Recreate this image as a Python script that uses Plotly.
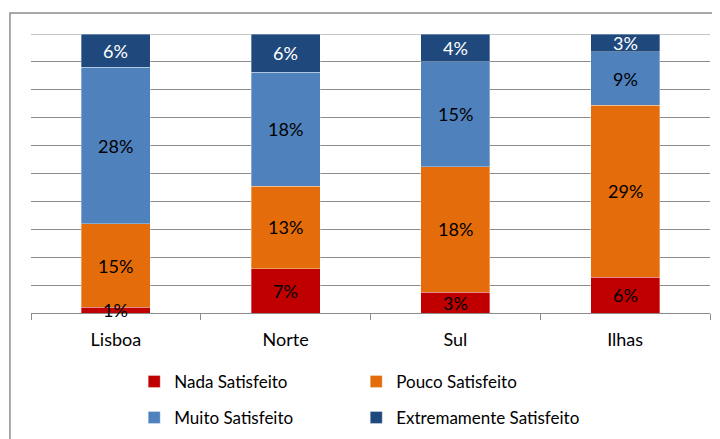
import plotly.graph_objects as go

# data
regioes = ["Lisboa", "Norte", "Sul", "Ilhas"]
series = ["Nada Satisfeito", "Pouco Satisfeito", "Muito Satisfeito", "Extremamente Satisfeito"]
nada = [1, 7, 3, 6]
pouco = [15, 13, 18, 29]
muito = [28, 18, 15, 9]
extremamente = [6, 6, 4, 3]

valores = [nada, pouco, muito, extremamente]
cores = ["#C00000", "#E46C0A", "#4F81BD", "#1F497D"]
cor_texto = ["black", "black", "black", "white"]

FONT = "Lato"

fig = go.Figure()
legend_ids = ["legend", "legend2", "legend3", "legend4"]
for nome, vals, cor, lg in zip(series, valores, cores, legend_ids):
    fig.add_trace(go.Bar(
        x=regioes, y=vals, name=nome,
        marker=dict(color=cor, line=dict(width=0.6, color="rgba(255,255,255,0.55)")),
        legend=lg,
        hovertemplate="%{x}: %{y}%<extra>" + nome + "</extra>",
    ))

# labels at the middle of each stacked segment (100% stacking)
totais = [sum(v[i] for v in valores) for i in range(len(regioes))]
for i, reg in enumerate(regioes):
    acum = 0
    for j, vals in enumerate(valores):
        v = vals[i]
        meio = (acum + v / 2) / totais[i] * 100
        acum += v
        fig.add_annotation(
            x=reg, y=meio, xref="x", yref="y", text=f"{v}%", showarrow=False,
            font=dict(family=FONT, size=18, color=cor_texto[j]),
        )

# outer chart border (Excel chart area)
fig.add_shape(type="rect", xref="paper", yref="paper",
              x0=-0.031, x1=1.2, y0=-0.8, y1=1.0753,
              line=dict(color="#8C8C8C", width=1.5), layer="below")
# top gridline (100%)
fig.add_shape(type="line", xref="paper", yref="y", x0=0, x1=1, y0=100, y1=100,
              line=dict(color="#8C8C8C", width=1), layer="below")

# legend in 2x2 grid: one legend per entry
leg_pos = [(0.152, -0.247), (0.479, -0.247), (0.152, -0.376), (0.479, -0.376)]
leg_layout = {}
for lg, (lx, ly) in zip(legend_ids, leg_pos):
    leg_layout[lg] = dict(x=lx, y=ly, xanchor="left", yanchor="middle",
                          bgcolor="rgba(0,0,0,0)", font=dict(family=FONT, size=17, color="black"),
                          itemwidth=30)

fig.update_layout(
    width=720, height=439,
    barmode="stack", barnorm="percent", bargap=0.594,
    margin=dict(l=23, r=18, t=26, b=134, autoexpand=False),
    paper_bgcolor="white", plot_bgcolor="white",
    showlegend=True,
    font=dict(family=FONT, color="black"),
    xaxis=dict(
        showline=True, linecolor="#8C8C8C", linewidth=1,
        ticks="outside", tickson="boundaries", ticklen=6, tickcolor="#8C8C8C",
        tickfont=dict(family=FONT, size=18, color="black"),
        ticklabelstandoff=10,
    ),
    yaxis=dict(
        range=[0, 100], dtick=10, showgrid=True, gridcolor="#8C8C8C", gridwidth=1,
        showticklabels=False, zeroline=False, showline=False,
    ),
    **leg_layout,
)

fig.write_html("out.html")
